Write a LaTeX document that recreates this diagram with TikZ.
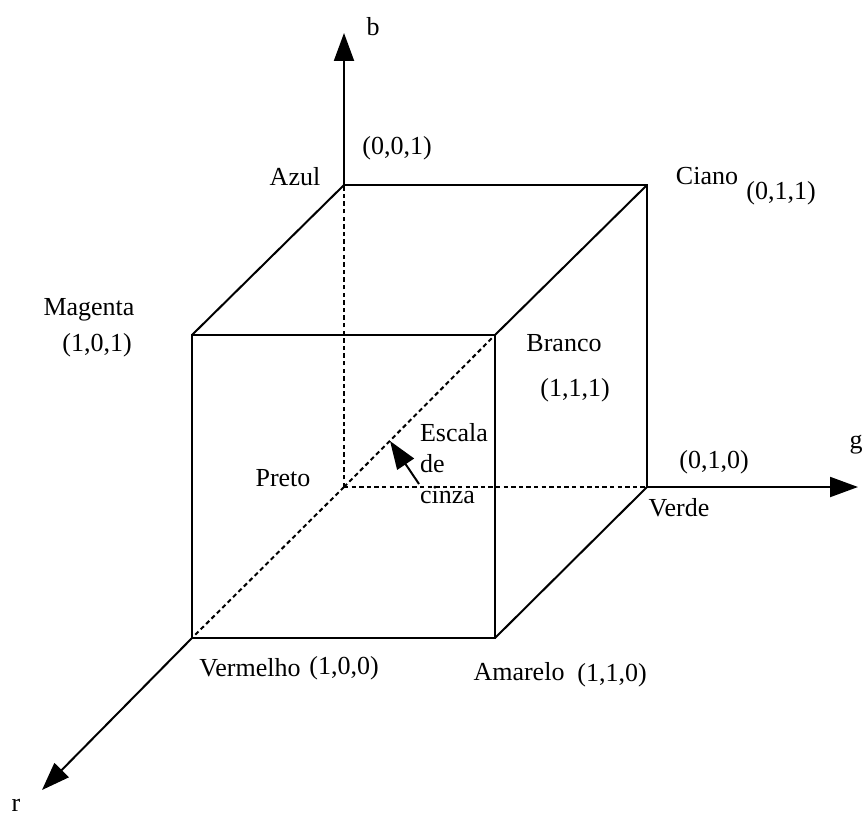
\documentclass[tikz,border=0pt]{standalone}
\usepackage{fontspec}
\setmainfont{Liberation Serif}
\usetikzlibrary{arrows.meta, positioning}

\begin{document}
\begin{tikzpicture}[x=0.5pt, y=-0.5pt, line width=1pt]

	\tikzset{
		axis/.style={
				-{Triangle[length=14pt, width=10pt]}
			},
		hidden/.style={
				dash pattern=on 2.2pt off 1.6pt
			},
		lbl/.style={
				inner sep=0pt, font=\fontsize{13}{15.5}\selectfont
			},
	}

	\useasboundingbox (0,0) rectangle (865,818);

	% cantos do cubo
	\coordinate (preto) at (344,487);
	\coordinate[above=151pt of preto] (azul);
	\coordinate[right=151.5pt of preto] (verde);
	\coordinate[above=151pt of verde] (ciano);
	\coordinate[below left=75.5pt and 76pt of preto] (vermelho);
	\coordinate[above=151.5pt of vermelho] (magenta);
	\coordinate[right=151.5pt of vermelho] (amarelo);
	\coordinate[above=151.5pt of amarelo] (branco);

	% pontas dos eixos
	\coordinate[above=76pt of azul] (btip);
	\coordinate[right=105.5pt of verde] (gtip);
	\coordinate[below left=76pt and 75pt of vermelho] (rtip);
	\coordinate (seta) at (419,484);
	\coordinate (cinza) at (390,441);

	\draw (azul) -- (ciano) -- (verde);
	\draw (magenta) -- (branco) -- (amarelo) -- (vermelho) -- cycle;
	\draw (azul) -- (magenta);
	\draw (ciano) -- (branco);
	\draw (verde) -- (amarelo);

	\draw[hidden] (preto) -- (azul);
	\draw[hidden] (preto) -- (verde);
	\draw[hidden] (preto) -- (vermelho);
	\draw[hidden] (preto) -- (branco);

	\draw[axis] (azul) -- (btip);
	\draw[axis] (verde) -- (gtip);
	\draw[axis] (vermelho) -- (rtip);
	\draw[axis] (seta) -- (cinza);

	\node[lbl] (lb) at (373,27) {b};
	\node[lbl] (lg) at (856,445) {g};
	\node[lbl] (lr) at (16,805) {r};

	\node[lbl] (lazul) at (295,177) {Azul};
	\node[lbl] (pazul) at (397,148) {(0,0,1)};
	\node[lbl] (lciano) at (707,176) {Ciano};
	\node[lbl] (pciano) at (781,193) {(0,1,1)};
	\node[lbl] (lmagenta) at (89,310) {Magenta};
	\node[lbl] (pmagenta) at (97,345) {(1,0,1)};
	\node[lbl] (lbranco) at (564,343) {Branco};
	\node[lbl] (pbranco) at (575,390) {(1,1,1)};
	\node[lbl] (lpreto) at (283,478) {Preto};
	\node[lbl] (pverde) at (714,462) {(0,1,0)};
	\node[lbl] (lverde) at (679,508) {Verde};
	\node[lbl] (lvermelho) at (250,668) {Vermelho};
	\node[lbl] (pvermelho) at (344,668) {(1,0,0)};
	\node[lbl] (lamarelo) at (519,672) {Amarelo};
	\node[lbl] (pamarelo) at (612,675) {(1,1,0)};
	\node[lbl, align=left, anchor=west] (lescala) at (419,464) {Escala\\de\\cinza};
\end{tikzpicture}
\end{document}
